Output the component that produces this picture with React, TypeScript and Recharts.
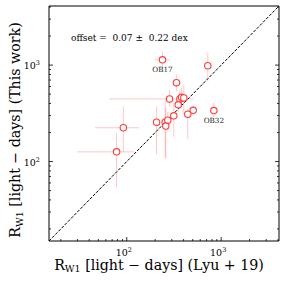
import React from 'react';
import { ScatterChart, Scatter, XAxis, YAxis, ErrorBar, ReferenceLine, Customized } from 'recharts';

const names = ['OB17', '', '', '', '', '', '', '', '', '', '', 'OB32', '', '', '', '', '', ''];
const xVals = [239, 722, 336, 284, 365, 380, 402, 351, 315, 443, 506, 837, 207, 255, 272, 259, 92, 78];
const yVals = [1134, 984, 657, 446, 446, 463, 457, 387, 298, 310, 340, 338, 256, 256, 268, 233, 224, 126];
const xErrLow = [42, 25, 31, 219, 20, 20, 20, 20, 20, 20, 20, 71, 15, 15, 15, 15, 46, 48];
const xErrHigh = [49, 25, 34, 229, 20, 20, 20, 20, 20, 20, 20, 85, 15, 15, 15, 15, 44, 43];
const yErrLow = [200, 307, 123, 74, 90, 100, 150, 60, 117, 140, 40, 50, 137, 146, 60, 126, 99, 72];
const yErrHigh = [245, 367, 137, 101, 110, 120, 168, 60, 110, 40, 40, 67, 118, 183, 60, 126, 148, 73];

const axisTicks = [20, 30, 40, 50, 60, 70, 80, 90, 100, 200, 300, 400, 500, 600, 700, 800, 900, 1000, 2000, 3000, 4000];
const majorLabels: Record<number, string> = { 100: '2', 1000: '3' };
const domain: [number, number] = [15, 4100];

const data = names.map((n, i) => ({
  name: n,
  x: xVals[i],
  y: yVals[i],
  xe: [xErrLow[i], xErrHigh[i]],
  ye: [yErrLow[i], yErrHigh[i]],
}));

const FONT = '"DejaVu Serif", serif';

const BottomTick = (p: any) => {
  const v = p.payload.value;
  const major = majorLabels[v] !== undefined;
  return (
    <g>
      <line x1={p.x} y1={p.y} x2={p.x} y2={p.y - (major ? 4 : 2)} stroke="#000" strokeWidth={0.8} />
      {major && (
        <text x={p.x - 3} y={p.y + 15} textAnchor="middle" fontSize={9.5} fontFamily={FONT} fill="#000">
          10<tspan dy={-4} fontSize={6.5}>{majorLabels[v]}</tspan>
        </text>
      )}
    </g>
  );
};

const TopTick = (p: any) => {
  const v = p.payload.value;
  const major = majorLabels[v] !== undefined;
  return <line x1={p.x} y1={p.y} x2={p.x} y2={p.y + (major ? 4 : 2)} stroke="#000" strokeWidth={0.8} />;
};

const LeftTick = (p: any) => {
  const v = p.payload.value;
  const major = majorLabels[v] !== undefined;
  return (
    <g>
      <line x1={p.x} y1={p.y} x2={p.x + (major ? 4 : 2)} y2={p.y} stroke="#000" strokeWidth={0.8} />
      {major && (
        <text x={p.x - 9} y={p.y + 4} textAnchor="end" fontSize={9.5} fontFamily={FONT} fill="#000">
          10<tspan dy={-4} fontSize={6.5}>{majorLabels[v]}</tspan>
        </text>
      )}
    </g>
  );
};

const RightTick = (p: any) => {
  const v = p.payload.value;
  const major = majorLabels[v] !== undefined;
  return <line x1={p.x} y1={p.y} x2={p.x - (major ? 4 : 2)} y2={p.y} stroke="#000" strokeWidth={0.8} />;
};

const Marker = (p: any) => (
  <g>
    <circle cx={p.cx} cy={p.cy} r={3.2} fill="#fff" stroke="#ff3b3b" strokeWidth={1.1} />
    {p.payload && p.payload.name ? (
      <text x={p.cx} y={p.cy + 12.5} textAnchor="middle" fontSize={7.2} fontFamily={FONT} fill="#222">
        {p.payload.name}
      </text>
    ) : null}
  </g>
);

const Texts = () => (
  <g fontFamily={FONT} fill="#000">
    <text x={71} y={40.5} fontSize={9} style={{ whiteSpace: 'pre' }}>
      {'offset =  0.07 \u00b1  0.22 dex'}
    </text>
    <text x={159} y={269.5} textAnchor="middle" fontSize={14.2} style={{ whiteSpace: 'pre' }}>
      R<tspan dy={2.8} fontSize={9.5}>W1</tspan><tspan dy={-2.8}>{' [light \u2212 days] (Lyu + 19)'}</tspan>
    </text>
    <text
      x={20}
      y={130}
      textAnchor="middle"
      fontSize={14.2}
      transform="rotate(-90 20 130)"
      style={{ whiteSpace: 'pre' }}
    >
      R<tspan dy={2.8} fontSize={9.5}>W1</tspan><tspan dy={-2.8}>{' [light \u2212 days] (This work)'}</tspan>
    </text>
  </g>
);

export default function App() {
  return (
    <div style={{ position: 'absolute', left: 0, top: 0, background: '#fff' }}>
      <ScatterChart width={284} height={282} margin={{ top: 0, right: 0, bottom: 0, left: 0 }}>
        <XAxis
          xAxisId="b"
          dataKey="x"
          type="number"
          scale="log"
          domain={domain}
          allowDataOverflow
          ticks={axisTicks}
          interval={0}
          tickLine={false}
          tickSize={0}
          tickMargin={0}
          tick={<BottomTick />}
          axisLine={{ stroke: '#000', strokeWidth: 1 }}
          height={41}
          orientation="bottom"
        />
        <XAxis
          xAxisId="t"
          type="number"
          scale="log"
          domain={domain}
          allowDataOverflow
          ticks={axisTicks}
          interval={0}
          tickLine={false}
          tickSize={0}
          tickMargin={0}
          tick={<TopTick />}
          axisLine={{ stroke: '#000', strokeWidth: 1 }}
          height={6}
          orientation="top"
        />
        <YAxis
          yAxisId="l"
          dataKey="y"
          type="number"
          scale="log"
          domain={domain}
          allowDataOverflow
          ticks={axisTicks}
          interval={0}
          tickLine={false}
          tickSize={0}
          tickMargin={0}
          tick={<LeftTick />}
          axisLine={{ stroke: '#000', strokeWidth: 1 }}
          width={49}
          orientation="left"
        />
        <YAxis
          yAxisId="r"
          type="number"
          scale="log"
          domain={domain}
          allowDataOverflow
          ticks={axisTicks}
          interval={0}
          tickLine={false}
          tickSize={0}
          tickMargin={0}
          tick={<RightTick />}
          axisLine={{ stroke: '#000', strokeWidth: 1 }}
          width={5}
          orientation="right"
        />
        <ReferenceLine
          xAxisId="b"
          yAxisId="l"
          segment={[{ x: domain[0], y: domain[0] }, { x: domain[1], y: domain[1] }]}
          stroke="#000"
          strokeWidth={1}
          strokeDasharray="3 1.5"
        />
        <Scatter xAxisId="b" yAxisId="l" data={data} isAnimationActive={false} shape={<Marker />}>
          <ErrorBar dataKey="xe" direction="x" width={0} stroke="#ff0000" strokeOpacity={0.22} strokeWidth={1} />
          <ErrorBar dataKey="ye" direction="y" width={0} stroke="#ff0000" strokeOpacity={0.22} strokeWidth={1} />
        </Scatter>
        <Customized component={<Texts />} />
      </ScatterChart>
    </div>
  );
}
